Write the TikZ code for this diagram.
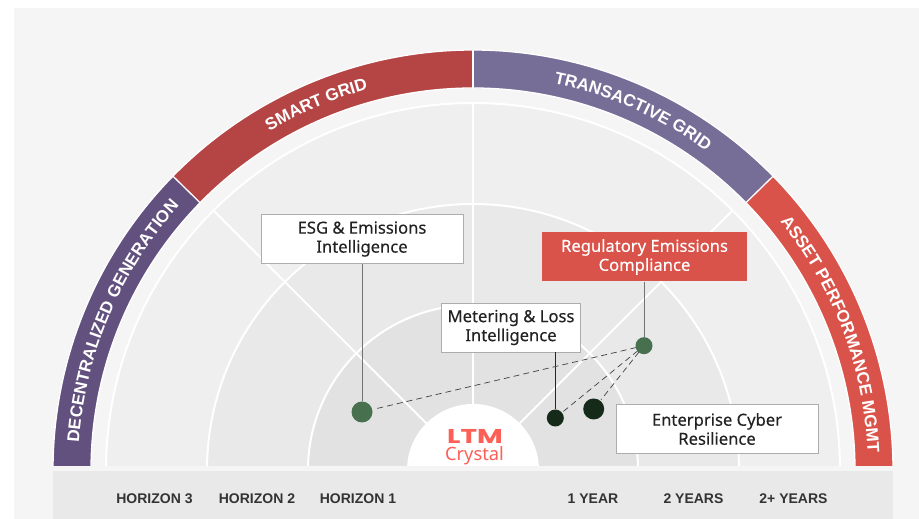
\documentclass[tikz,border=0pt]{standalone}
\usepackage{fontspec}
\setmainfont{Liberation Sans}
\newfontfamily\boxfont[FakeBold=0.25]{Noto Sans}
\newfontfamily\logofont{Poppins}
\newfontfamily\crystalfont{Noto Sans}
\usetikzlibrary{decorations.text}
\definecolor{panelbg}{HTML}{F5F5F5}
\definecolor{ringa}{HTML}{EFEFEF}
\definecolor{ringb}{HTML}{E9E9E9}
\definecolor{ringc}{HTML}{E2E2E2}
\definecolor{bandpurple}{HTML}{62507E}
\definecolor{bandred}{HTML}{B54545}
\definecolor{bandviolet}{HTML}{776E98}
\definecolor{bandcoral}{HTML}{D9534A}
\definecolor{logored}{HTML}{FB5F55}
\definecolor{dotgreen}{HTML}{47704E}
\definecolor{dotdark}{HTML}{162A1A}
\definecolor{ink}{HTML}{222222}
\definecolor{axisink}{HTML}{333333}
\tikzset{
  ringfill/.style={draw=white,line width=2pt},
  spoke/.style={draw=white,line width=2pt},
  bandseg/.style={draw=white,line width=1.3pt},
  bandtext/.style={decorate,decoration={text along path,text align=center,
     text format delimiters={|}{|}}},
  labelbox/.style={draw=black!32,line width=0.9pt,fill=white,minimum width=#1,minimum height=49pt,
     inner sep=0pt,align=center,text=ink,font=\boxfont\fontsize{16.6}{19}\selectfont},
  dot/.style={circle,inner sep=0pt,minimum size=#1,draw=none},
  leader/.style={draw=black!55,line width=0.9pt},
  dashlink/.style={draw=black!75,line width=0.7pt,dash pattern=on 6pt off 4pt,shorten >=#1,shorten <=8pt},
  axis/.style={text=axisink,font=\fontsize{14}{16}\selectfont\bfseries},
}
\newcommand{\bandsector}[3]{% colour, start, end
  \fill[#1] (#2:420) arc[start angle=#2,end angle=#3,radius=420] -- (#3:382) arc[start angle=#3,end angle=#2,radius=382] -- cycle;
  \draw[bandseg] (#2:420) arc[start angle=#2,end angle=#3,radius=420];
  \draw[bandseg] (#3:382) arc[start angle=#3,end angle=#2,radius=382];
}
\begin{document}
\begin{tikzpicture}[x=1pt,y=1pt]
\useasboundingbox (0,0) rectangle (919,519);
\fill[panelbg] (14,0) rectangle (919,511);
\begin{scope}
\clip (0,53) rectangle (919,519);
\begin{scope}[shift={(473,49)}]
  \filldraw[fill=ringa,ringfill] (0,0) circle[radius=367];
  \filldraw[fill=ringb,ringfill] (0,0) circle[radius=266];
  \filldraw[fill=ringc,ringfill] (0,0) circle[radius=165];
  \draw[spoke] (45:65) -- (45:367);
  \draw[spoke] (90:65) -- (90:367);
  \draw[spoke] (135:65) -- (135:367);
  \fill[white] (0,0) circle[radius=66];
  \bandsector{bandpurple}{180}{135.6}
  \bandsector{bandred}{135.6}{90}
  \bandsector{bandviolet}{90}{44.4}
  \bandsector{bandcoral}{44.4}{0}
  \draw[bandseg] (135.6:382) -- (135.6:420);
  \draw[bandseg] (90:382) -- (90:420);
  \draw[bandseg] (44.4:382) -- (44.4:420);
  \def\bandfont{\color{white}\fontsize{17}{19}\selectfont\bfseries}
  \path[bandtext,decoration={text={|\bandfont|DECENTRALIZED GENERATION}}] (179:395) arc[start angle=179,end angle=135,radius=395];
  \path[bandtext,decoration={text={|\bandfont|SMART GRID}}] (135:395) arc[start angle=135,end angle=91.4,radius=395];
  \path[bandtext,decoration={text={|\bandfont|TRANSACTIVE GRID}}] (88:395) arc[start angle=88,end angle=44,radius=395];
  \path[bandtext,decoration={text={|\bandfont|ASSET PERFORMANCE MGMT}}] (44:395) arc[start angle=44,end angle=-2.5,radius=395];
\end{scope}
\end{scope}
\fill[ringb] (53,0) rectangle (893,48);

\node[axis] (h3) at (154.5,20) {HORIZON 3};
\node[axis] (h2) at (257,20) {HORIZON 2};
\node[axis] (h1) at (358,20) {HORIZON 1};
\node[axis] (y1) at (593,20) {1 YEAR};
\node[axis] (y2) at (693.5,20) {2 YEARS};
\node[axis] (y3) at (793.5,20) {2+ YEARS};

\node[text=logored,font=\logofont\fontsize{20}{22}\selectfont\bfseries,inner sep=0pt] (ltm) at (475,83) {\scalebox{1.4}[1]{LTM}};
\node[text=logored,font=\crystalfont\fontsize{18.3}{20}\selectfont,inner sep=0pt] (crystal) at (474.5,63) {Crystal};

\node[labelbox=202pt] (esg) at (362,280) {ESG \& Emissions\\Intelligence};
\node[labelbox=205pt,draw=none,fill=bandcoral,text=white] (reg) at (644.5,262) {Regulatory Emissions\\Compliance};
\node[labelbox=139pt] (met) at (511,191.5) {Metering \& Loss\\Intelligence};
\node[labelbox=202pt] (cyb) at (717,90) {Enterprise Cyber\\Resilience};

\node[dot=21pt,fill=dotgreen] (desg) at (362,107) {};
\node[dot=17pt,fill=dotgreen] (dreg) at (644,173.3) {};
\node[dot=17pt,fill=dotdark] (dmet) at (555.3,101) {};
\node[dot=21pt,fill=dotdark] (dcyb) at (593.7,110) {};

\draw[leader] (esg.south) -- (desg);
\draw[leader] (reg.south -| dreg) -- (dreg);
\draw[leader,draw=black!85] (met.south -| dmet) -- (dmet);

\draw[dashlink=1pt] (dreg.center) -- (desg);
\draw[dashlink=1pt] (dreg.center) -- (dmet);
\draw[dashlink=1pt] (dreg.center) -- (dcyb);
\end{tikzpicture}
\end{document}
